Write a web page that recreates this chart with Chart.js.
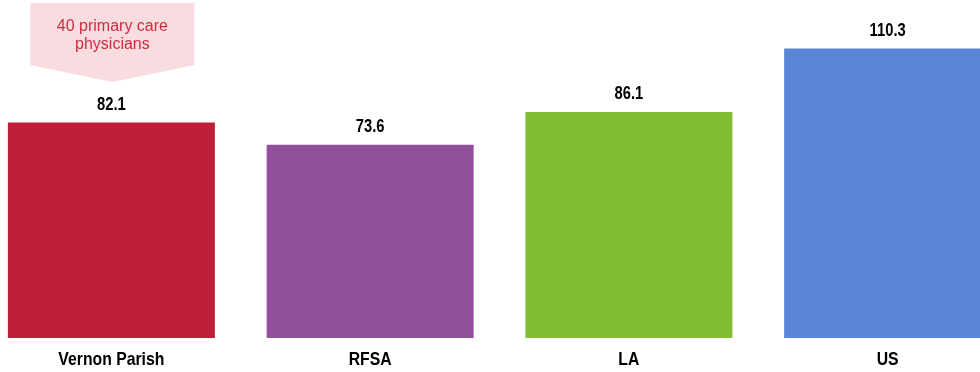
<!DOCTYPE html>
<html>
<head>
<meta charset="utf-8">
<script src="https://cdn.jsdelivr.net/npm/chart.js@4.4.1/dist/chart.umd.min.js"></script>
<style>
	html, body { margin: 0; padding: 0; background: #fff; overflow: hidden; }
	#wrap { position: absolute; left: -18px; top: 0; width: 1035px; height: 372px; }
</style>
</head>
<body>
<div id="wrap"><canvas id="barChart"></canvas></div>
<script>
var categories = ['Vernon Parish', 'RFSA', 'LA', 'US'];
var rates = [82.1, 73.6, 86.1, 110.3];
var barColors = ['#be1e37', '#924f9c', '#81be33', '#5b86d6'];
var calloutLines = ['40 primary care', 'physicians'];

/* narrow bold text (no Arial Narrow installed, so squeeze it) */
function narrowText(ctx, text, x, y, sx) {
	ctx.save();
	ctx.translate(x, y);
	ctx.scale(sx, 1);
	ctx.fillText(text, 0, 0);
	ctx.restore();
}

/* value labels above bars + category labels under the axis */
var barLabels = {
	id: 'barLabels',
	afterDatasetsDraw: function (chart) {
		var ctx = chart.ctx;
		var meta = chart.getDatasetMeta(0);
		var xScale = chart.scales.x;
		ctx.save();
		ctx.fillStyle = '#000';
		ctx.textAlign = 'center';
		ctx.textBaseline = 'middle';
		ctx.font = "bold 18px 'Liberation Sans', Arial, sans-serif";
		meta.data.forEach(function (bar, i) {
			narrowText(ctx, rates[i].toFixed(1), bar.x, bar.y - 18, 0.82);
		});
		ctx.font = "bold 19px 'Liberation Sans', Arial, sans-serif";
		categories.forEach(function (c, i) {
			narrowText(ctx, c, xScale.getPixelForValue(i), xScale.top + 22, 0.83);
		});
		ctx.restore();
	}
};

/* callout over the first bar */
var callout = {
	id: 'callout',
	afterDatasetsDraw: function (chart) {
		var ctx = chart.ctx;
		var bar = chart.getDatasetMeta(0).data[0];
		var cx = bar.x + 1, half = 82;
		ctx.save();
		ctx.fillStyle = '#f9dcdf';
		ctx.beginPath();
		ctx.moveTo(cx - half, 3);
		ctx.lineTo(cx + half, 3);
		ctx.lineTo(cx + half, 65);
		ctx.lineTo(cx, 82);
		ctx.lineTo(cx - half, 65);
		ctx.closePath();
		ctx.fill();
		ctx.font = "16px 'Liberation Sans', Arial, sans-serif";
		ctx.fillStyle = '#cf2b3f';
		ctx.textAlign = 'center';
		ctx.textBaseline = 'middle';
		calloutLines.forEach(function (t, i) {
			ctx.fillText(t, cx, 27 + i * 18);
		});
		ctx.restore();
	}
};

var ctx = document.getElementById('barChart').getContext('2d');
var myChart = new Chart(ctx, {
	type: 'bar',
	data: {
		labels: categories,
		datasets: [{
			data: rates,
			backgroundColor: barColors,
			borderWidth: 0,
			barPercentage: 0.8,
			categoryPercentage: 1
		}]
	},
	options: {
		responsive: true,
		maintainAspectRatio: false,
		animation: false,
		layout: { padding: 0 },
		scales: {
			x: {
				grid: { display: false, drawTicks: false },
				border: { display: false },
				ticks: { display: false },
				afterFit: function (scale) { scale.height = 34; }
			},
			y: {
				display: false,
				min: 0,
				max: 128.8
			}
		},
		plugins: {
			legend: { display: false },
			tooltip: { enabled: false }
		}
	},
	plugins: [barLabels, callout]
});
</script>
</body>
</html>
